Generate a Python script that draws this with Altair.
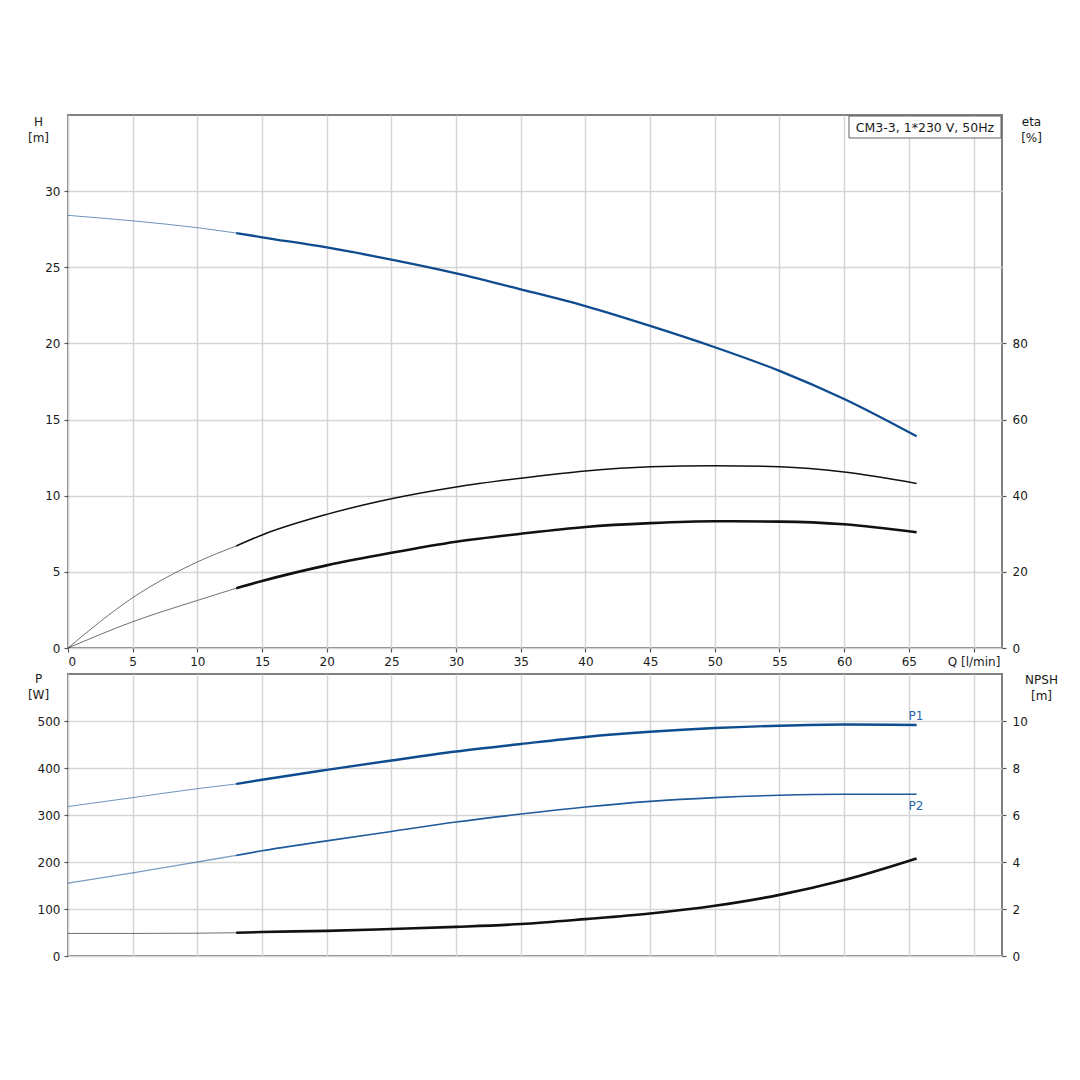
import altair as alt
import pandas as pd

# ---------------- data ----------------
Q = [0, 5, 10, 13, 15, 20, 25, 30, 35, 40, 45, 50, 55, 60, 65.6]
H = [28.41, 28.05, 27.6, 27.25, 26.97, 26.3, 25.5, 24.6, 23.55, 22.45, 21.15, 19.75, 18.2, 16.35, 13.9]
ETA_PUMP = [0, 13.2, 22.6, 26.8, 29.7, 35.1, 39.2, 42.3, 44.6, 46.5, 47.6, 47.9, 47.6, 46.2, 43.2]
ETA_TOTAL = [0, 6.9, 12.5, 15.7, 17.6, 21.7, 25.0, 27.9, 30.0, 31.8, 32.8, 33.3, 33.2, 32.5, 30.4]
P1 = [318, 337, 356, 366, 375, 396, 416, 435, 451, 466, 477, 485, 490, 492.5, 491.5]
P2 = [155, 177, 200, 214, 224, 245, 265, 285, 302, 317, 329, 337, 342, 344, 344]
NPSH = [0.96, 0.96, 0.97, 0.99, 1.02, 1.07, 1.15, 1.24, 1.36, 1.57, 1.81, 2.14, 2.6, 3.23, 4.15]
SPLIT_Q = 13

X_TICKS = [0, 5, 10, 15, 20, 25, 30, 35, 40, 45, 50, 55, 60, 65, 70]
H_TICKS = [0, 5, 10, 15, 20, 25, 30]
ETA_TICKS = [0, 20, 40, 60, 80]
P_TICKS = [0, 100, 200, 300, 400, 500]
NPSH_TICKS = [0, 2, 4, 6, 8, 10]
BOX_LABEL = "CM3-3, 1*230 V, 50Hz"
Q_LABEL = "Q [l/min]"
P1_LABEL = "P1"
P2_LABEL = "P2"

# ---------------- styles ----------------
BLUE = "#0f4c8f"
BLACK = "#111111"
STYLE = {
    "H": (BLUE, 1.0, 2.3),
    "eta_pump": (BLACK, 1.0, 1.5),
    "eta_total": (BLACK, 1.0, 2.6),
    "P1": (BLUE, 1.0, 2.4),
    "P2": ("#1f5a9a", 1.3, 1.6),
    "NPSH": (BLACK, 1.0, 2.6),
}
FONT = "DejaVu Sans"


def long(name, vals):
    color, wthin, wthick = STYLE[name]
    rows = []
    for q, v in zip(Q, vals):
        if q <= SPLIT_Q:
            rows.append(dict(Q=q, v=v, key=name + "_a", color=color, w=wthin, op=0.6))
        if q >= SPLIT_Q:
            rows.append(dict(Q=q, v=v, key=name + "_b", color=color, w=wthick, op=1.0))
    return rows


df_H = pd.DataFrame(long("H", H))
df_eta = pd.DataFrame(long("eta_pump", ETA_PUMP) + long("eta_total", ETA_TOTAL))
df_P = pd.DataFrame(long("P1", P1) + long("P2", P2))
df_N = pd.DataFrame(long("NPSH", NPSH))
df_lab1 = pd.DataFrame({"Q": [Q[-1]], "v": [P1[-1]], "t": [P1_LABEL]})
df_lab2 = pd.DataFrame({"Q": [Q[-1]], "v": [P2[-1]], "t": [P2_LABEL]})
df_box = pd.DataFrame({"t": [BOX_LABEL]})

W = 934
XDOM = [0, 72.2]

top_x_axis = alt.Axis(
    values=X_TICKS, grid=True, title=None,
    labelExpr=f"datum.value == 70 ? '{Q_LABEL}' : datum.label",
)
bot_x_axis = alt.Axis(values=X_TICKS, grid=True, title=None, labels=False, ticks=False)


def xenc(axis):
    return alt.X("Q:Q", scale=alt.Scale(domain=XDOM, nice=False, zero=False), axis=axis)


line_common = dict(
    detail="key:N",
    color=alt.Color("color:N", scale=None),
    strokeWidth=alt.StrokeWidth("w:Q", scale=None),
    opacity=alt.Opacity("op:Q", scale=None),
)

# ---------------- top panel ----------------
h_layer = alt.Chart(df_H).mark_line(interpolate="monotone").encode(
    x=xenc(top_x_axis),
    y=alt.Y("v:Q", scale=alt.Scale(domain=[0, 35], nice=False),
            axis=alt.Axis(values=H_TICKS, grid=True, title=["H", "[m]"], titleAngle=0,
                          titleX=-30, titleY=1, titleAlign="center", titleBaseline="top")),
    **line_common,
)
eta_layer = alt.Chart(df_eta).mark_line(interpolate="monotone").encode(
    x=xenc(top_x_axis),
    y=alt.Y("v:Q", scale=alt.Scale(domain=[0, 140], nice=False),
            axis=alt.Axis(orient="right", values=ETA_TICKS, grid=False, title=["eta", "[%]"],
                          titleAngle=0, titleX=29, titleY=1, titleAlign="center",
                          titleBaseline="top", labelPadding=6)),
    **line_common,
)
box = alt.Chart(df_box).mark_rect(fill="white", stroke="#606060", strokeWidth=1).encode(
    x=alt.value(781), x2=alt.value(933), y=alt.value(1), y2=alt.value(23)
)
box_text = alt.Chart(df_box).mark_text(font=FONT, fontSize=12.5, color="#1a1a1a", align="center",
                                        baseline="middle").encode(
    x=alt.value(857), y=alt.value(12.5), text="t:N"
)
top = alt.layer(h_layer, eta_layer, box, box_text).resolve_scale(y="independent").properties(
    width=W, height=533
)

# ---------------- bottom panel ----------------
p_layer = alt.Chart(df_P).mark_line(interpolate="monotone").encode(
    x=xenc(bot_x_axis),
    y=alt.Y("v:Q", scale=alt.Scale(domain=[0, 600], nice=False),
            axis=alt.Axis(values=P_TICKS, grid=True, title=["P", "[W]"], titleAngle=0,
                          titleX=-30, titleY=-1, titleAlign="center", titleBaseline="top")),
    **line_common,
)
n_layer = alt.Chart(df_N).mark_line(interpolate="monotone").encode(
    x=xenc(bot_x_axis),
    y=alt.Y("v:Q", scale=alt.Scale(domain=[0, 12], nice=False),
            axis=alt.Axis(orient="right", values=NPSH_TICKS, grid=False, title=["NPSH", "[m]"],
                          titleAngle=0, titleX=39, titleY=0, titleAlign="center",
                          titleBaseline="top", labelPadding=6)),
    **line_common,
)


def label_layer(df, dy):
    return alt.Chart(df).mark_text(font=FONT, fontSize=12, color="#2a64a8", align="left",
                                   baseline="middle", dx=-8, dy=dy).encode(
        x=xenc(bot_x_axis),
        y=alt.Y("v:Q", scale=alt.Scale(domain=[0, 600], nice=False), axis=None),
        text="t:N",
    )


bottom = alt.layer(p_layer, n_layer, label_layer(df_lab1, -9), label_layer(df_lab2, 12)).resolve_scale(
    y="independent"
).properties(width=W, height=282)

chart = alt.vconcat(top, bottom, spacing=26, bounds="flush").properties(
    padding={"left": 18, "top": 106, "right": 5, "bottom": 5},
    background="white",
).configure_view(
    stroke="#808080", strokeWidth=2
).configure_axis(
    labelFont=FONT, labelFontSize=12, labelColor="#1a1a1a",
    titleFont=FONT, titleFontSize=12, titleFontWeight="normal", titleColor="#1a1a1a",
    titleLineHeight=16,
    gridColor="#d5d5d5", gridWidth=1.5,
    tickColor="#555555", tickSize=4, tickWidth=1.2,
    domain=False, labelPadding=4,
)

chart.save("out.html", embed_options={"renderer": "svg", "actions": False})
